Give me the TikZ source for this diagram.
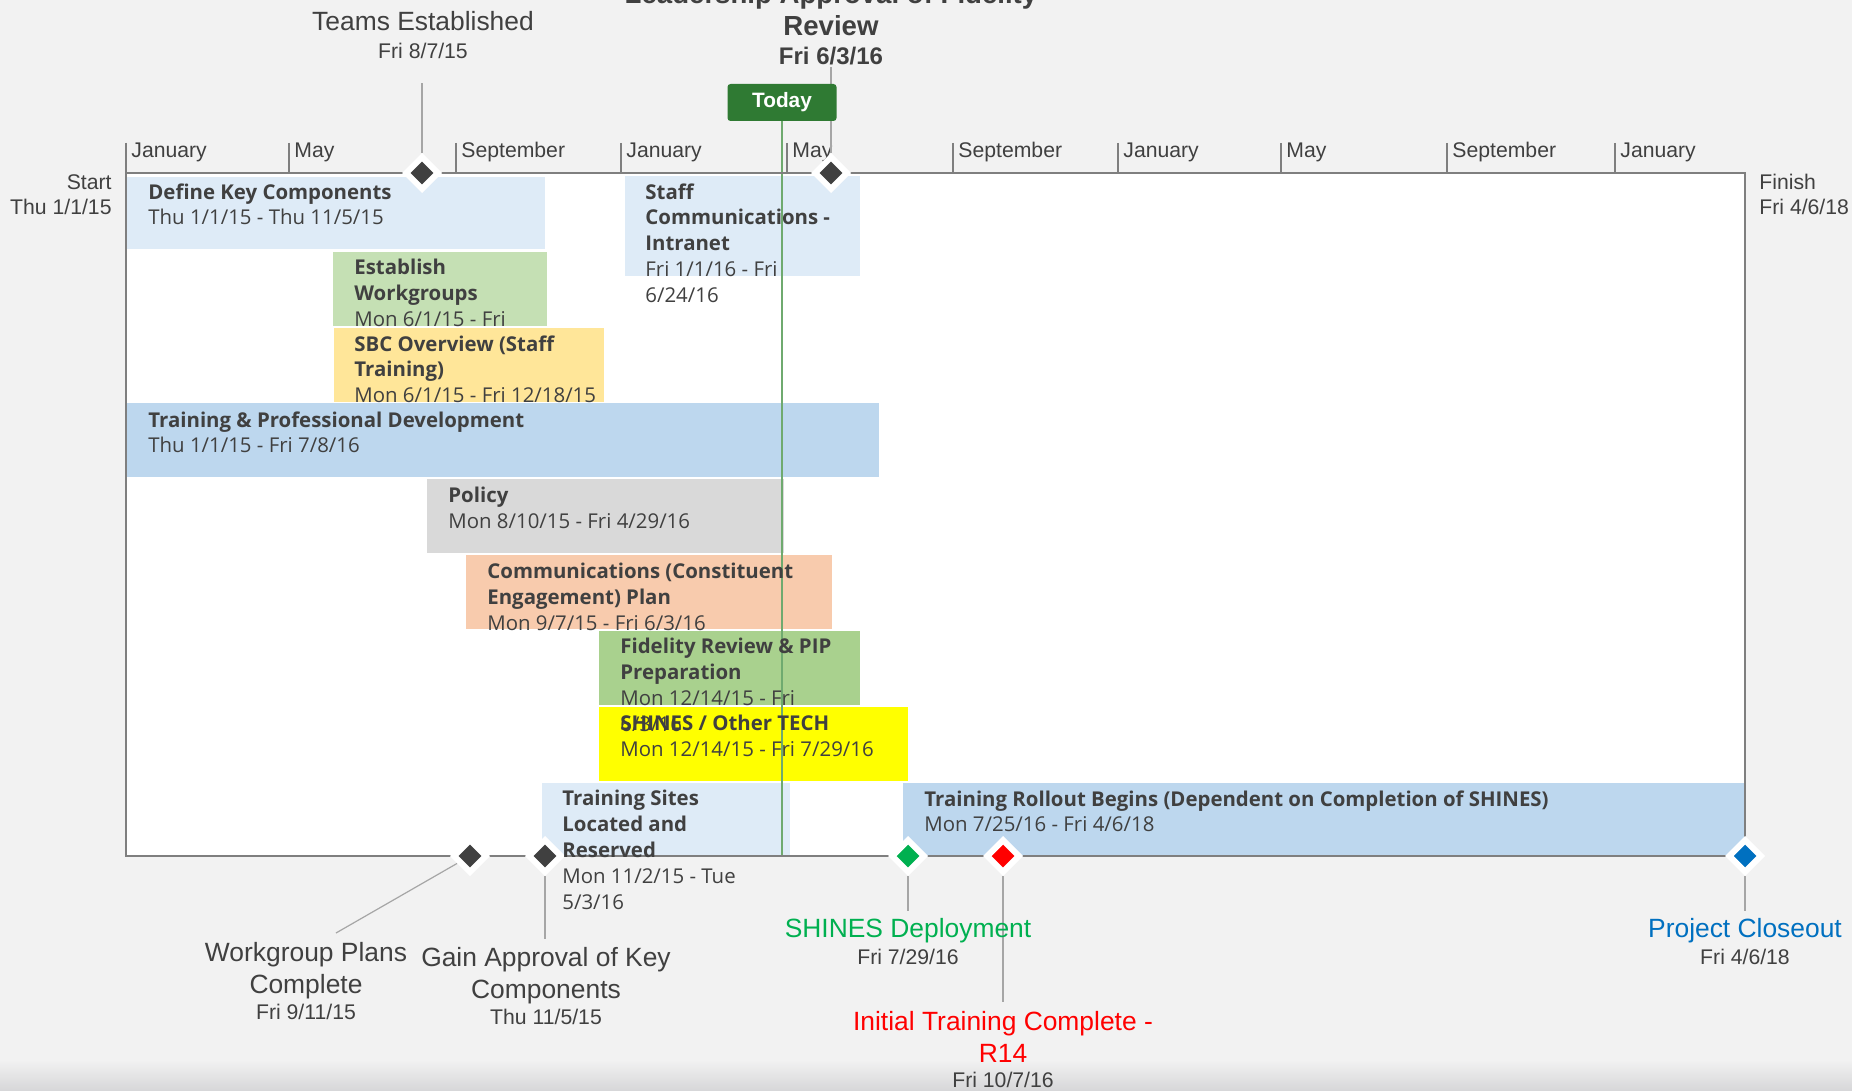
\documentclass[tikz,border=0pt]{standalone}
\usepackage{fontspec}
\setmainfont{Liberation Sans}
\newfontfamily\barfont{Open Sans}
\usetikzlibrary{shapes.geometric,backgrounds}

\definecolor{bg}{HTML}{F2F2F2}
\definecolor{shadec}{HTML}{D6D6D8}
\definecolor{txt}{HTML}{404040}
\definecolor{framec}{HTML}{7F7F7F}
\definecolor{leadc}{HTML}{A6A6A6}
\definecolor{paleblue}{HTML}{DEEBF7}
\definecolor{midblue}{HTML}{BDD7EE}
\definecolor{lgreen}{HTML}{C5E0B4}
\definecolor{lorange}{HTML}{FFE699}
\definecolor{lgray}{HTML}{D9D9D9}
\definecolor{salmon}{HTML}{F8CBAD}
\definecolor{mgreen}{HTML}{A9D18E}
\definecolor{yel}{HTML}{FFFF00}
\definecolor{todayc}{HTML}{2F7A33}
\definecolor{todayln}{HTML}{6FAA6F}
\definecolor{msdark}{HTML}{404040}
\definecolor{msgreen}{HTML}{00B050}
\definecolor{msred}{HTML}{FF0000}
\definecolor{msblue}{HTML}{0070C0}

\newcommand\msdate{\fontsize{10.6}{16}\selectfont\color{txt}\mdseries}

\begin{document}
\begin{tikzpicture}[x=0.5pt,y=-0.5pt,
  bartxt/.style={anchor=north west,inner sep=0pt,align=left,text=txt,
    font=\barfont\fontsize{10.2}{12.9}\selectfont,execute at begin node=\strut},
  mslab/.style={anchor=north,inner sep=0pt,align=center,text=txt,
    font=\fontsize{13.2}{16}\selectfont,execute at begin node=\strut},
  endlab/.style={inner sep=0pt,text=txt,font=\fontsize{10.6}{12.5}\selectfont,
    execute at begin node=\strut},
  month/.style={anchor=base west,inner sep=0pt,text=txt,font=\fontsize{10.6}{12.5}\selectfont},
  ms/.style={diamond,fill=#1,draw=white,line width=3pt,minimum size=17pt,inner sep=0pt},
  todaybox/.style={fill=todayc,text=white,rounded corners=1.5pt,inner sep=0pt,
    minimum width=54.5pt,minimum height=18.5pt,font=\bfseries\fontsize{10.4}{12}\selectfont},
  lead/.style={draw=leadc,line width=0.6pt},
  frame/.style={draw=framec,line width=0.8pt},
  tick/.style={draw=framec,line width=0.6pt}]
\useasboundingbox (0,0) rectangle (1852,1091);

% milestones
\foreach \n/\x/\y/\c in {teams/422/173/msdark,leader/831/173/msdark,
    wgplans/470/856/msdark,gainappr/545/856/msdark,shinesd/908/856/msgreen,
    initial/1003/856/msred,closeout/1745/856/msblue}
  \node[ms=\c] (\n) at (\x,\y) {};

\coordinate (teamsT) at (422,83);
\coordinate (leaderT) at (831,67);
\coordinate (wgplansT) at (336,933);
\coordinate (gainapprT) at (545,939);
\coordinate (shinesdT) at (908,911);
\coordinate (initialT) at (1003,1002);
\coordinate (closeoutT) at (1745,911);
\coordinate (todaybot) at (782,856);

\node[mslab] (teamsL) at (423,11) {Teams Established\\[-2pt]\msdate Fri 8/7/15};
\node[mslab,font=\bfseries\fontsize{13.8}{16}\selectfont] (leaderL) at (831,-17)
  {Leadership Approval of Fidelity\\Review\\[-1.2pt]\fontsize{12}{16}\selectfont Fri 6/3/16};
\node[mslab] (wgplansL) at (306,942) {Workgroup Plans\\Complete\\[-3pt]\msdate Fri 9/11/15};
\node[mslab] (gainapprL) at (546,947) {Gain Approval of Key\\Components\\[-3pt]\msdate Thu 11/5/15};
\node[mslab,text=msgreen] (shinesdL) at (908,918) {SHINES Deployment\\[-2.5pt]\msdate Fri 7/29/16};
\node[mslab,text=msred] (initialL) at (1003,1011)
  {Initial Training Complete -\\R14\\[-3.5pt]\msdate Fri 10/7/16};
\node[mslab,text=msblue] (closeoutL) at (1745,918) {Project Closeout\\[-2.5pt]\msdate Fri 4/6/18};

\node[endlab,anchor=north east,align=right] (startL) at (112,174) {Start\\Thu 1/1/15};
\node[endlab,anchor=north west,align=left] (finishL) at (1759,174) {Finish\\Fri 4/6/18};

\node[todaybox] (today) at (782,102.5) {Today};

% task texts
\node[bartxt] (defkey) at (148,183) {\textbf{Define Key Components}\\Thu 1/1/15 - Thu 11/5/15};
\node[bartxt] (staff) at (645,183) {\textbf{Staff}\\\textbf{Communications -}\\\textbf{Intranet}\\Fri 1/1/16 - Fri\\6/24/16};
\node[bartxt] (estwg) at (354,259) {\textbf{Establish}\\\textbf{Workgroups}\\Mon 6/1/15 - Fri};
\node[bartxt] (sbc) at (354,335) {\textbf{SBC Overview (Staff}\\\textbf{Training)}\\Mon 6/1/15 - Fri 12/18/15};
\node[bartxt] (tpd) at (148,411) {\textbf{Training \& Professional Development}\\Thu 1/1/15 - Fri 7/8/16};
\node[bartxt] (policy) at (448,487) {\textbf{Policy}\\Mon 8/10/15 - Fri 4/29/16};
\node[bartxt] (comms) at (487,563) {\textbf{Communications (Constituent}\\\textbf{Engagement) Plan}\\Mon 9/7/15 - Fri 6/3/16};
\node[bartxt] (fidelity) at (620,638) {\textbf{Fidelity Review \& PIP}\\\textbf{Preparation}\\Mon 12/14/15 - Fri\\6/3/16};
\node[bartxt] (shines) at (620,715) {\textbf{SHINES / Other TECH}\\Mon 12/14/15 - Fri 7/29/16};
\node[bartxt] (sites) at (562,790) {\textbf{Training Sites}\\\textbf{Located and}\\\textbf{Reserved}\\Mon 11/2/15 - Tue\\5/3/16};
\node[bartxt] (rollout) at (924,790) {\textbf{Training Rollout Begins (Dependent on Completion of SHINES)}\\Mon 7/25/16 - Fri 4/6/18};

\begin{scope}[on background layer]
  \fill[bg] (0,0) rectangle (1852,1091);
  \shade[top color=bg,bottom color=shadec] (0,1060) rectangle (1852,1091);
  \fill[white] (126,173) rectangle (1745,856);
  % task bars
  \foreach \xa/\ya/\xb/\yb/\c in {126/177/545/249/paleblue,625/176/860/276/paleblue,
      333/252/547/326/lgreen,334/328/604/402/lorange,126/403/879/477/midblue,
      427/479/784/553/lgray,466/555/832/629/salmon,599/631/860/705/mgreen,
      599/707/908/781/yel,542/783/790/856/paleblue,903/783/1745/856/midblue}
    \fill[\c] (\xa,\ya) rectangle (\xb,\yb);
  \draw[todayln,line width=0.75pt] (today.south) -- (todaybot);
  % frame and months
  \draw[frame] (126,143) -- (126,856) -- (1745,856) -- (1745,173) -- (126,173);
  \foreach \x/\m in {126/January,289/May,456/September,621/January,787/May,
      953/September,1118/January,1281/May,1447/September,1615/January} {
    \draw[tick] (\x,143) -- (\x,173);
    \node[month] (mon\x) at (\x+5,157.5) {\m};
  }
  % leader lines
  \foreach \n in {teams,leader,wgplans,gainappr,shinesd,initial,closeout}
    \draw[lead] (\n) -- (\n T);
\end{scope}
\end{tikzpicture}
\end{document}
